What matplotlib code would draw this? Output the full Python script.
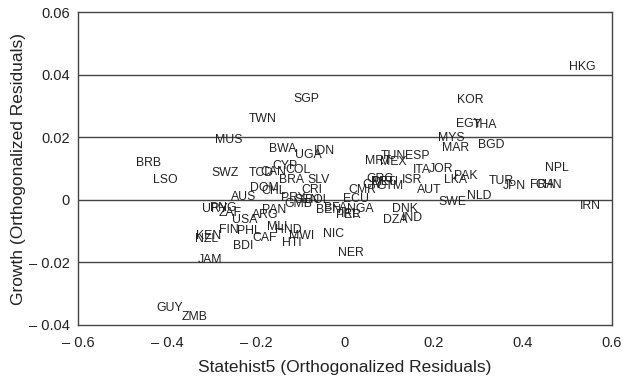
import matplotlib
matplotlib.use("Agg")
import matplotlib.pyplot as plt

codes = ["HKG", "KOR", "EGY", "THA", "MYS", "MAR", "BGD", "NPL", "TUR", "JPN",
         "FRA", "CHN", "IRN", "NLD", "SWE", "PAK", "LKA", "JOR", "ITA", "AUT",
         "TUN", "MEX", "MRT", "ESP", "ISR", "CMR", "ECU", "CIV", "GRC", "DEU",
         "GTM", "PRT", "DNK", "DZA", "IND", "NIC", "NER",
         "TCD", "CAN", "CYP", "COL", "BRA", "SLV", "CRI", "DOM", "CHL", "AUS",
         "PRY", "GMB", "SEN", "BOL", "BEN", "BFA", "PER", "IRL", "NGA",
         "URY", "PNG", "ZAF", "USA", "ARG", "PAN", "FIN", "PHL", "CAF", "MLI",
         "HND", "MWI", "HTI", "BDI", "KEN", "NZL", "JAM", "GUY", "ZMB",
         "BRB", "LSO", "SWZ", "MUS", "SGP", "TWN", "BWA", "UGA", "IDN"]
statehist = [0.533, 0.282, 0.279, 0.315, 0.238, 0.249, 0.328, 0.477, 0.352, 0.380,
             0.443, 0.458, 0.551, 0.302, 0.242, 0.272, 0.249, 0.215, 0.174, 0.189,
             0.109, 0.109, 0.075, 0.163, 0.150, 0.040, 0.025, 0.062, 0.078, 0.090,
             0.102, 0.085, 0.135, 0.112, 0.152, -0.026, 0.013,
             -0.187, -0.162, -0.135, -0.105, -0.120, -0.060, -0.075, -0.180, -0.161, -0.227,
             -0.116, -0.105, -0.085, -0.062, -0.037, -0.020, 0.007, 0.012, 0.035,
             -0.292, -0.273, -0.258, -0.225, -0.180, -0.160, -0.262, -0.215, -0.180, -0.152,
             -0.127, -0.097, -0.120, -0.229, -0.307, -0.311, -0.303, -0.393, -0.337,
             -0.442, -0.404, -0.270, -0.262, -0.086, -0.184, -0.139, -0.082, -0.047]
growth = [0.0426, 0.0318, 0.0243, 0.0238, 0.0197, 0.0165, 0.0174, 0.0103, 0.0059, 0.0043,
          0.0047, 0.0047, -0.0019, 0.0011, -0.0006, 0.0077, 0.0062, 0.0100, 0.0094, 0.0030,
          0.0139, 0.0121, 0.0123, 0.0139, 0.0064, 0.0032, 0.0002, 0.0048, 0.0066, 0.0058,
          0.0044, 0.0058, -0.0030, -0.0064, -0.0058, -0.0109, -0.0169,
          0.0087, 0.0090, 0.0109, 0.0096, 0.0064, 0.0064, 0.0032, 0.0039, 0.0029, 0.0009,
          0.0005, -0.0014, -0.0002, 0.0000, -0.0032, -0.0027, -0.0048, -0.0046, -0.0030,
          -0.0029, -0.0025, -0.0043, -0.0064, -0.0048, -0.0032, -0.0096, -0.0099, -0.0123, -0.0087,
          -0.0096, -0.0117, -0.0139, -0.0149, -0.0117, -0.0125, -0.0192, -0.0347, -0.0373,
          0.0117, 0.0064, 0.0085, 0.0190, 0.0322, 0.0259, 0.0162, 0.0144, 0.0155]

xticks = [-0.6, -0.4, -0.2, 0, 0.2, 0.4, 0.6]
xticklabels = ["– 0.6", "– 0.4", "– 0.2", "0", "0.2", "0.4", "0.6"]
yticks = [-0.04, -0.02, 0, 0.02, 0.04, 0.06]
yticklabels = ["– 0.04", "– 0.02", "0", "0.02", "0.04", "0.06"]

plt.rcParams['font.family'] = ['Liberation Sans', 'DejaVu Sans']

fig = plt.figure(figsize=(6.23, 3.77), dpi=100)
ax = fig.add_axes([0.1252, 0.138, 0.857, 0.830])
ax.set_xlim(-0.6, 0.6)
ax.set_ylim(-0.04, 0.06)

for yv in [-0.02, 0, 0.02, 0.04]:
    ax.axhline(yv, color='#444444', linewidth=1.0, zorder=1)

for c, xv, yv in zip(codes, statehist, growth):
    ax.text(xv, yv, c, ha='center', va='center', fontsize=8.8, color='#222222', zorder=3)

ax.set_xticks(xticks)
ax.set_xticklabels(xticklabels)
ax.set_yticks(yticks)
ax.set_yticklabels(yticklabels)
ax.tick_params(length=0, labelsize=10.5, colors='#222222', pad=6)
ax.tick_params(axis='x', pad=8)
for s in ax.spines.values():
    s.set_color('#444444')
    s.set_linewidth(1.0)

ax.set_xlabel("Statehist5 (Orthogonalized Residuals)", fontsize=12.5, color='#222222', labelpad=7)
ax.set_ylabel("Growth (Orthogonalized Residuals)", fontsize=12.5, color='#222222', labelpad=2)

fig.savefig("out.png", dpi=100)
